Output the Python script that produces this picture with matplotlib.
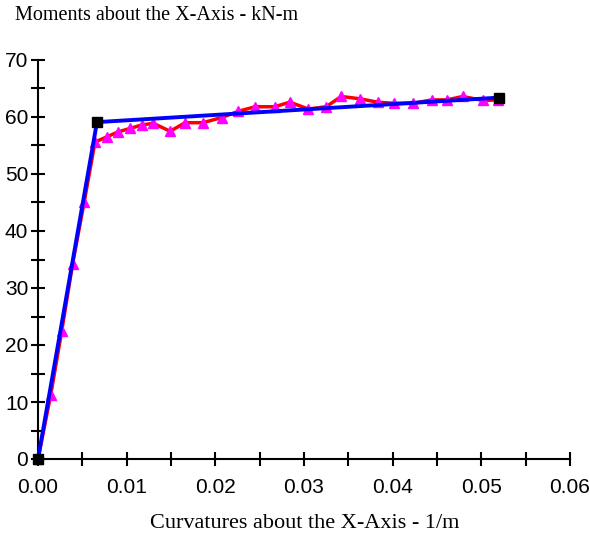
import matplotlib
matplotlib.use('Agg')
import matplotlib.pyplot as plt
from matplotlib.ticker import MultipleLocator, FormatStrFormatter

# moment-curvature data
curv = [0.0, 0.00143, 0.00267, 0.0039, 0.0052, 0.00643, 0.00774, 0.00905, 0.0104,
        0.0117, 0.0130, 0.0149, 0.0166, 0.0186, 0.0207, 0.0226, 0.0245, 0.0267,
        0.0284, 0.0305, 0.0325, 0.0342, 0.0363, 0.0383, 0.0402, 0.0423, 0.0444,
        0.0461, 0.0479, 0.0502, 0.0519]
moment = [0.0, 11.2, 22.4, 34.2, 45.0, 55.6, 56.5, 57.4, 58.0, 58.6, 58.9, 57.5,
          59.0, 59.0, 59.9, 61.0, 61.8, 61.8, 62.6, 61.4, 61.8, 63.6, 63.2, 62.6,
          62.4, 62.4, 63.0, 63.0, 63.6, 62.9, 63.0]

# bilinear idealisation
bil_curv = [0.0, 0.00665, 0.052]
bil_moment = [0.0, 59.1, 63.4]

fig = plt.figure(figsize=(5.9, 5.39), dpi=100)
ax = fig.add_axes([38/590, 1-459/539, 532/590, 399/539])

ax.plot(curv, moment, color='red', lw=2.5, marker='^', ms=7,
        mfc='magenta', mec='magenta', zorder=2)
ax.plot(bil_curv, bil_moment, color='blue', lw=2.8, zorder=3)
ax.plot(bil_curv, bil_moment, ls='none', marker='s', ms=7, color='black', zorder=4)

ax.set_xlim(0, 0.06)
ax.set_ylim(0, 70)
ax.spines['top'].set_visible(False)
ax.spines['right'].set_visible(False)
ax.spines['left'].set_linewidth(1.5)
ax.spines['bottom'].set_linewidth(1.5)
ax.xaxis.set_major_locator(MultipleLocator(0.01))
ax.xaxis.set_minor_locator(MultipleLocator(0.005))
ax.yaxis.set_major_locator(MultipleLocator(10))
ax.yaxis.set_minor_locator(MultipleLocator(5))
ax.xaxis.set_major_formatter(FormatStrFormatter('%.2f'))
ax.tick_params(which='both', direction='inout', length=10, width=1.5,
               labelsize=15, pad=2)
ax.tick_params(axis='x', pad=9)
for t in ax.get_xticklabels() + ax.get_yticklabels():
    t.set_family('Liberation Sans')
for l in ax.lines:
    l.set_clip_on(False)

fig.text(15/590, 1-15/539, 'Moments about the X-Axis - kN-m', family='Liberation Serif',
         fontsize=14.5, ha='left', va='center')
fig.text(305/590, 1-523/539, 'Curvatures about the X-Axis - 1/m', family='Liberation Serif',
         fontsize=16, ha='center', va='center')

fig.savefig('out.png', dpi=100)
